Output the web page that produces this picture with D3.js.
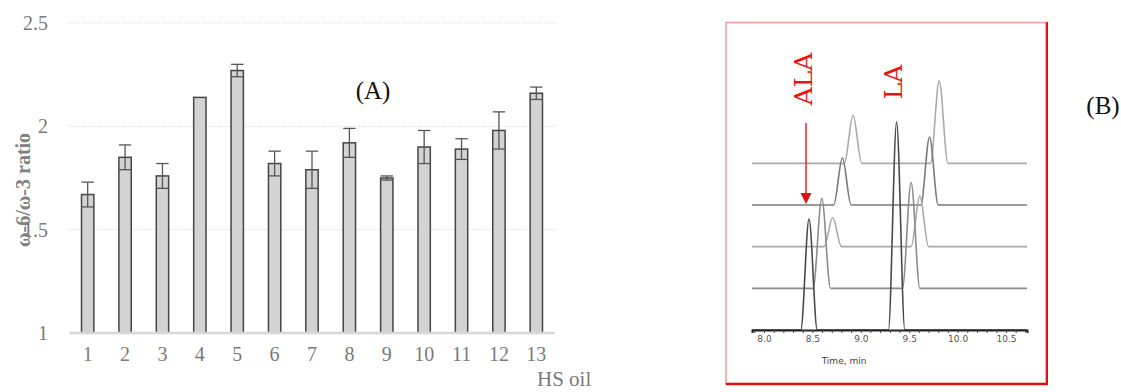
<!DOCTYPE html>
<html>
<head>
<meta charset="utf-8">
<script src="https://cdn.jsdelivr.net/npm/d3@7"></script>
<style>
  html, body { margin: 0; padding: 0; background: #fff; }
  svg { display: block; }
</style>
</head>
<body>
<svg id="chart" width="1121" height="392"></svg>
<script>
// ---------- Panel A data ----------
const categories = ["1","2","3","4","5","6","7","8","9","10","11","12","13"];
const ratioValues = [1.67, 1.85, 1.76, 2.14, 2.27, 1.82, 1.79, 1.92, 1.75, 1.90, 1.89, 1.98, 2.16];
const ratioErrors = [0.06, 0.06, 0.06, 0.00, 0.03, 0.06, 0.09, 0.07, 0.01, 0.08, 0.05, 0.09, 0.03];
const yTickValues = [1, 1.5, 2, 2.5];
const yTickLabels = ["1", "1.5", "2", "2.5"];

// ---------- Panel B data (chromatogram) ----------
const traceIds = [0, 1, 2, 3, 4];
const alaTimes = [8.465, 8.597, 8.71, 8.81, 8.92];
const alaHeights = [2.66, 2.16, 0.70, 1.13, 1.15];
const laTimes = [9.37, 9.52, 9.61, 9.71, 9.81];
const laHeights = [4.99, 2.54, 1.22, 1.63, 1.98];
const peakHalfWidth = [0.085, 0.09, 0.09, 0.09, 0.09];
const timeTickValues = [8.0, 8.5, 9.0, 9.5, 10.0, 10.5];
const timeTickLabels = ["8.0", "8.5", "9.0", "9.5", "10.0", "10.5"];
const timeDomain = [7.876, 10.717];
const traceColors = ["#4a4a4a", "#8c8c8c", "#a8a8a8", "#7a7a7a", "#ababab"];

const svg = d3.select("#chart");
const serif = "'Liberation Serif', 'Times New Roman', serif";

// ================= Panel A =================
const x = d3.scaleBand().domain(categories).range([69, 555]).paddingInner(0.67).paddingOuter(0.335);
const y = d3.scaleLinear().domain([1, 2.5]).range([333, 23]);

const gA = svg.append("g");

// gridlines
gA.append("g").selectAll("line").data(yTickValues.filter(v => v > 1)).join("line")
  .attr("x1", 69).attr("x2", 555)
  .attr("y1", d => y(d)).attr("y2", d => y(d))
  .attr("stroke", "#d4d4d4").attr("stroke-width", 1).attr("stroke-dasharray", "1,1.5");

// y axis labels
const yAxis = d3.axisLeft(y).tickValues(yTickValues).tickFormat((d, i) => yTickLabels[i]).tickSize(0).tickPadding(0);
const gy = gA.append("g").attr("transform", "translate(48,0)").call(yAxis);
gy.select(".domain").remove();
gy.selectAll("text").attr("font-family", serif).attr("font-size", 20).attr("fill", "#7a7a7a");

// bars
gA.append("g").selectAll("rect").data(ratioValues).join("rect")
  .attr("x", (d, i) => x(categories[i]))
  .attr("y", d => y(d))
  .attr("width", x.bandwidth())
  .attr("height", d => y(1) - y(d))
  .attr("fill", "#d3d3d3")
  .attr("stroke", "#454545")
  .attr("stroke-width", 1.5);

// error bars
const eb = gA.append("g").attr("stroke", "#555").attr("stroke-width", 1.3);
ratioValues.forEach((v, i) => {
  const e = ratioErrors[i];
  if (e <= 0) return;
  const cx = x(categories[i]) + x.bandwidth() / 2;
  const x0 = x(categories[i]), x1 = x0 + x.bandwidth();
  eb.append("line").attr("x1", cx).attr("x2", cx).attr("y1", y(v - e)).attr("y2", y(v + e));
  eb.append("line").attr("x1", x0).attr("x2", x1).attr("y1", y(v + e)).attr("y2", y(v + e));
  eb.append("line").attr("x1", x0).attr("x2", x1).attr("y1", y(v - e)).attr("y2", y(v - e));
});

// x axis
gA.append("line").attr("x1", 69).attr("x2", 555).attr("y1", y(1)).attr("y2", y(1))
  .attr("stroke", "#d6d6d6").attr("stroke-width", 2.5);
const xAxis = d3.axisBottom(x).tickSize(0).tickPadding(0);
const gx = gA.append("g").attr("transform", `translate(0,${y(1) + 22})`).call(xAxis);
gx.select(".domain").remove();
gx.selectAll("text").attr("font-family", serif).attr("font-size", 20).attr("fill", "#7a7a7a")
  .attr("dy", "0.32em");

gA.append("text").attr("x", 537).attr("y", 386).text("HS oil")
  .attr("font-family", serif).attr("font-size", 21).attr("fill", "#7a7a7a");

gA.append("text")
  .attr("transform", "translate(30,190) rotate(-90)")
  .attr("text-anchor", "middle")
  .attr("font-family", serif).attr("font-size", 20).attr("font-weight", "bold").attr("fill", "#808080")
  .text("ω-6/ω-3 ratio");

gA.append("text").attr("x", 373).attr("y", 99).attr("text-anchor", "middle")
  .attr("font-family", serif).attr("font-size", 25).attr("fill", "#111").text("(A)");

// ================= Panel B =================
const gB = svg.append("g");
// frame
gB.append("rect").attr("x", 726).attr("y", 22.5).attr("width", 320).attr("height", 361)
  .attr("fill", "#fff").attr("stroke", "#f59a9a").attr("stroke-width", 1.5);
gB.append("line").attr("x1", 1047).attr("x2", 1047).attr("y1", 22).attr("y2", 385)
  .attr("stroke", "#dd1111").attr("stroke-width", 2);
gB.append("line").attr("x1", 726).attr("x2", 1048).attr("y1", 384).attr("y2", 384)
  .attr("stroke", "#dd1111").attr("stroke-width", 2.5);

const tx = d3.scaleLinear().domain(timeDomain).range([752, 1027]);
const ty = d3.scaleLinear().domain([0, 6]).range([330, 80]);

const line = d3.line().x(d => tx(d[0])).y(d => ty(d[1])).curve(d3.curveMonotoneX);

traceIds.slice().reverse().forEach(i => {
  const off = i;
  const w = peakHalfWidth[i];
  const pts = [
    [timeDomain[0], off],
    [alaTimes[i] - w, off], [alaTimes[i], off + alaHeights[i]], [alaTimes[i] + w, off],
    [laTimes[i] - w, off], [laTimes[i], off + laHeights[i]], [laTimes[i] + w, off],
    [timeDomain[1], off]
  ];
  gB.append("path").attr("d", line(pts)).attr("fill", "none")
    .attr("stroke", traceColors[i]).attr("stroke-width", 1.6);
});

// time axis
const minorTicks = d3.range(79, 108).map(v => v / 10);
const tAxisMinor = d3.axisBottom(tx).tickValues(minorTicks).tickSize(3).tickFormat("");
const gtm = gB.append("g").attr("transform", "translate(0,330)").call(tAxisMinor);
gtm.select(".domain").attr("stroke", "#222").attr("stroke-width", 2);
gtm.selectAll(".tick line").attr("stroke", "#444");
const tAxis = d3.axisBottom(tx).tickValues(timeTickValues).tickFormat((d, i) => timeTickLabels[i]).tickSize(0).tickPadding(6);
const gt = gB.append("g").attr("transform", "translate(0,330)").call(tAxis);
gt.select(".domain").remove();
gt.selectAll("text").attr("font-family", "'DejaVu Sans', sans-serif").attr("font-size", 9).attr("fill", "#555");

gB.append("text").attr("x", 844).attr("y", 364).attr("text-anchor", "middle")
  .attr("font-family", "'DejaVu Sans', sans-serif").attr("font-size", 9).attr("fill", "#444").text("Time, min");

// labels
const slab = "'DejaVu Serif', serif";
gB.append("text").attr("transform", "translate(812,79) rotate(-90)").attr("text-anchor", "middle")
  .attr("font-family", slab).attr("font-size", 25).attr("fill", "#ee1111").text("ALA");
gB.append("text").attr("transform", "translate(902,82) rotate(-90)").attr("text-anchor", "middle")
  .attr("font-family", slab).attr("font-size", 25).attr("fill", "#ee1111").text("LA");

// arrow
gB.append("line").attr("x1", 806).attr("x2", 806).attr("y1", 123).attr("y2", 194)
  .attr("stroke", "#ee2222").attr("stroke-width", 1.5);
gB.append("path").attr("d", "M800.5,193 L811.5,193 L806,204 Z").attr("fill", "#dd1111");

svg.append("text").attr("x", 1103).attr("y", 114).attr("text-anchor", "middle")
  .attr("font-family", serif).attr("font-size", 25).attr("fill", "#111").text("(B)");
</script>
</body>
</html>
